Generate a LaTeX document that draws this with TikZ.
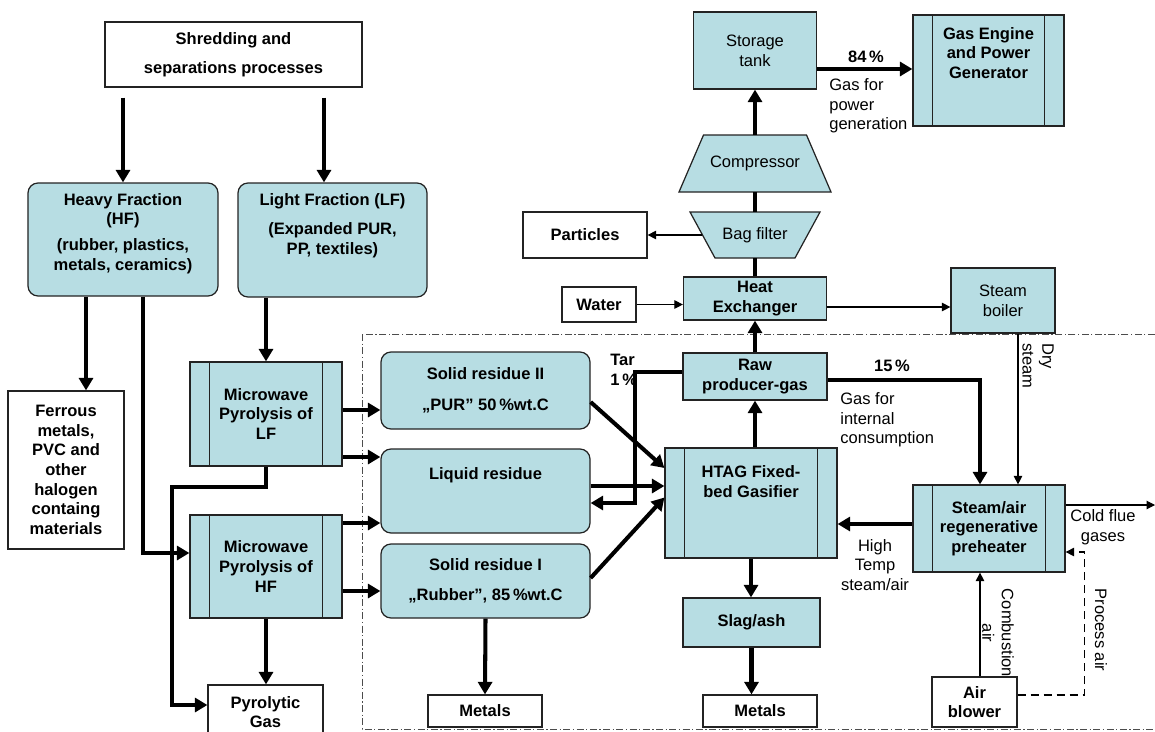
\documentclass[tikz,border=0pt]{standalone}
\usepackage{fontspec}
\setmainfont{Liberation Sans}
\usetikzlibrary{arrows.meta}
\definecolor{boxfill}{RGB}{183,221,227}
\definecolor{boxline}{RGB}{35,35,35}

\begin{document}
\fontsize{9.4}{11.2}\selectfont
\begin{tikzpicture}[x=0.2mm, y=-0.2mm,
  box/.style={rectangle, draw=boxline, line width=0.7pt, align=center, inner sep=0pt, font=\bfseries},
  bluebox/.style={box, fill=boxfill},
  roundbox/.style={bluebox, rounded corners=2mm},
  procbox/.style={bluebox, path picture={
      \draw[boxline, line width=0.7pt]
        ([xshift=3.9mm]path picture bounding box.north west) -- ([xshift=3.9mm]path picture bounding box.south west)
        ([xshift=-3.9mm]path picture bounding box.north east) -- ([xshift=-3.9mm]path picture bounding box.south east);}},
  trapshape/.style={draw=boxline, fill=boxfill, line width=0.7pt},
  toptext/.style={anchor=north, align=center, inner sep=0pt, font=\bfseries},
  plain/.style={font=\mdseries},
  lbl/.style={align=left, inner sep=0pt},
  flow/.style={line width=2.3pt, -{Triangle[length=2.5mm, width=2.8mm]}},
  pipe/.style={line width=2.3pt},
  feed/.style={line width=0.6pt, -{Triangle[length=1.7mm, width=1.7mm]}},
  border/.style={line width=0.5pt, black!70, dash pattern=on 1.4mm off 0.5mm on 0.25mm off 0.5mm}
]
\useasboundingbox (0,0) rectangle (1155,731);
\clip (0,0) rectangle (1155,731);

\draw[border] (362,334) rectangle (1165,729);
\draw[trapshape] (679,192) -- (831,192) -- (806.5,135) -- (703.5,135) -- cycle;
\draw[trapshape] (690,212) -- (820,212) -- (795,258) -- (715,258) -- cycle;

\node (shred) [box, minimum width=51.4mm, minimum height=13mm] at (233.5,54.5) {Shredding and\\[5pt]separations processes};
\node (hf) [roundbox, minimum width=38mm, minimum height=22.6mm,
  label={[toptext, yshift=-2.1mm]north:{Heavy Fraction\\(HF)\\[3.5pt](rubber, plastics,\\metals, ceramics)}}] at (123,239.5) {};
\node (lf) [roundbox, minimum width=37.8mm, minimum height=22.8mm,
  label={[toptext, yshift=-2.1mm]north:{Light Fraction (LF)\\[5.5pt](Expanded PUR,\\PP, textiles)}}] at (332.5,240) {};
\node (ferr) [box, minimum width=23.2mm, minimum height=31.6mm] at (66,470) {Ferrous\\metals,\\PVC and\\other\\halogen\\containg\\materials};

\node (mwlf) [procbox, minimum width=30.4mm, minimum height=20.8mm] at (266,414) {Microwave\\Pyrolysis of\\LF};
\node (mwhf) [procbox, minimum width=30.4mm, minimum height=20.6mm] at (266,566.5) {Microwave\\Pyrolysis of\\HF};
\node (pyro) [box, fill=white, minimum width=23mm, minimum height=10.8mm] at (265.5,712) {Pyrolytic\\Gas};

\node (s2) [roundbox, minimum width=41.8mm, minimum height=15.4mm] at (485.5,390.5) {Solid residue II\\[6.5pt]„PUR” 50\,\%wt.C};
\node (liq) [roundbox, minimum width=41.8mm, minimum height=16.8mm,
  label={[toptext, yshift=-3.7mm]north:Liquid residue}] at (485.5,491) {};
\node (s1) [roundbox, minimum width=41.8mm, minimum height=14.8mm] at (485.5,581) {Solid residue I\\[6pt]„Rubber”, 85\,\%wt.C};
\node (met1) [box, minimum width=22.8mm, minimum height=6.4mm] at (485,711) {Metals};

\node (htag) [procbox, minimum width=34.4mm, minimum height=22mm,
  label={[toptext, yshift=-3.6mm]north:{HTAG Fixed-\\bed Gasifier}}] at (751,503) {};
\node (raw) [bluebox, minimum width=28.8mm, minimum height=9.4mm] at (755,376.5) {Raw\\producer-gas};
\node (he) [bluebox, minimum width=28.6mm, minimum height=8.6mm] at (755,298.5) {Heat\\Exchanger};
\node (water) [box, minimum width=14.8mm, minimum height=7mm] at (599,304.5) {Water};
\node (bag) [inner sep=0pt, minimum width=21mm, minimum height=9.2mm] at (755,235) {Bag filter};
\node (part) [box, minimum width=24.8mm, minimum height=9.2mm] at (585,235) {Particles};
\node (comp) [inner sep=0pt, minimum width=25.5mm, minimum height=11.4mm] at (755,163.5) {Compressor};
\node (tank) [bluebox, plain, minimum width=24.6mm, minimum height=15.4mm] at (755,50.5) {Storage\\tank};
\node (eng) [procbox, minimum width=30.2mm, minimum height=22.2mm,
  label={[toptext, yshift=-2.5mm]north:{Gas Engine\\and Power\\Generator}}] at (988.5,70.5) {};
\node (boil) [bluebox, plain, minimum width=20.8mm, minimum height=13mm] at (1003,300.5) {Steam\\boiler};
\node (pre) [procbox, minimum width=30.4mm, minimum height=17.4mm] at (989,528.5) {Steam/air\\regenerative\\preheater};
\node (slag) [bluebox, minimum width=27.4mm, minimum height=9.8mm] at (751.5,622.5) {Slag/ash};
\node (met2) [box, minimum width=22.8mm, minimum height=6.4mm] at (760,711) {Metals};
\node (blow) [box, minimum width=17mm, minimum height=10mm] at (974.5,702) {Air\\blower};
\coordinate (flue) at (1155,505);

\node (p84) [font=\bfseries, inner sep=0pt] at (866,57) {84\,\%};
\node (gpow) [lbl, anchor=west] at (829,106) {Gas for\\power\\generation};
\node (p15) [font=\bfseries, inner sep=0pt] at (892,366) {15\,\%};
\node (gint) [lbl, anchor=west] at (840,420) {Gas for\\internal\\consumption};
\node (tar) [lbl, font=\bfseries, anchor=west] at (610,370) {Tar\\1\,\%};
\node (hts) [align=center, inner sep=0pt] at (875,565) {High\\Temp\\steam/air};
\node (cfg) [align=center, inner sep=0pt] at (1103,527) {Cold flue\\gases};
\node (drys) [lbl, rotate=-90] at (1038,366) {Dry\\steam};
\node (cair) [align=center, inner sep=0pt, rotate=-90] at (998,633) {Combustion\\air};
\node (pair) [inner sep=0pt, rotate=-90] at (1101,630) {Process air};

\draw[flow, shorten <=2mm] (shred.south -| hf.north) -- (hf.north);
\draw[flow, shorten <=2mm] ([xshift=-1.7mm]lf.north |- shred.south) -- ([xshift=-1.7mm]lf.north);
\draw[flow] ([xshift=-7.4mm]hf.south) -- ([xshift=-7.4mm]hf.south |- ferr.north);
\draw[flow] ([xshift=4mm]hf.south) |- ([yshift=2.7mm]mwhf.west);
\draw[flow] (mwlf.north |- lf.south) -- (mwlf.north);
\draw[flow] (mwlf.south) -- ++(0,20) -- ++(-94,0) |- ([yshift=1.4mm]pyro.west);
\draw[flow] (mwhf.south) -- (mwhf.south |- pyro.north);

\draw[flow] ([yshift=0.8mm]mwlf.east) -- ([yshift=0.8mm]mwlf.east -| s2.west);
\draw[flow] ([yshift=-8.6mm]mwlf.east) -- ([yshift=-8.6mm]mwlf.east -| liq.west);
\draw[flow] ([yshift=8.7mm]mwhf.east) -- ([yshift=8.7mm]mwhf.east -| liq.west);
\draw[flow] ([yshift=-4.9mm]mwhf.east) -- ([yshift=-4.9mm]mwhf.east -| s1.west);

\draw[flow] ([yshift=-2.3mm]s2.east) -- ([yshift=7mm]htag.west);
\draw[flow] ([yshift=1mm]liq.east) -- ([yshift=1mm]liq.east -| htag.west);
\draw[flow] ([yshift=0.6mm]s1.east) -- ([yshift=1.1mm]htag.west);
\draw[flow] ([yshift=0.9mm]raw.west) -- ++(-47,0) |- ([yshift=-2.4mm]liq.east);
\draw[flow] (s1.south) -- (met1.north);

\draw[flow] (raw.south |- htag.north) -- (raw.south);
\draw[flow] (raw.north) -- (raw.north |- he.south);
\draw[pipe] (he.north) -- (bag.south);
\draw[pipe] (bag.north) -- (comp.south);
\draw[flow] (comp.north) -- (tank.south);
\draw[feed] (bag.west) -- (part.east);
\draw[flow] ([yshift=-3.7mm]tank.east) -- ([yshift=-3.7mm]tank.east -| eng.west);
\draw[feed] (water.east) -- (water.east -| he.west);
\draw[feed] ([yshift=-1.7mm]he.east) -- ([yshift=-1.7mm]he.east -| boil.west);
\draw[feed] ([xshift=3mm]boil.south) -- ([xshift=3mm]boil.south |- pre.north);

\draw[flow] ([yshift=-0.7mm]raw.east) -| ([xshift=-1.8mm]pre.north);
\draw[flow] ([yshift=0.9mm]pre.west) -- ([yshift=0.9mm]pre.west -| htag.east);
\draw[feed] ([yshift=4.7mm]pre.east) -- ([yshift=4.7mm]pre.east -| flue);
\draw[feed] ([xshift=1.1mm]blow.north) -- ([xshift=1.1mm]blow.north |- pre.south);
\draw[feed, dash pattern=on 1.6mm off 1mm] ([yshift=1.4mm]blow.east) -- ++(67,0) |- ([yshift=-4.7mm]pre.east);
\draw[flow] (htag.south) -- (htag.south |- slag.north);
\draw[flow] (slag.south) -- (slag.south |- met2.north);

\end{tikzpicture}
\end{document}
